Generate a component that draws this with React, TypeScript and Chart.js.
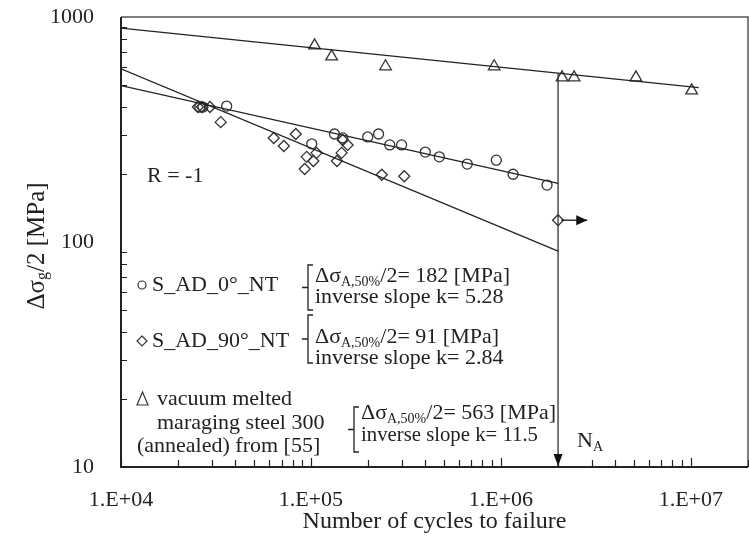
import React, { useEffect, useRef } from 'react';
import { Chart, registerables } from 'chart.js';

Chart.register(...registerables);

const FAMILY = '"Liberation Serif", "Times New Roman", serif';
const INK = '#222';

// Data
const circleN = [2.6e4, 2.7e4, 3.6e4, 1.01e5, 1.33e5, 1.47e5, 1.99e5, 2.27e5, 2.6e5, 3.0e5, 4.0e5, 4.74e5, 6.65e5, 9.46e5, 1.16e6, 1.75e6];
const circleS = [398, 398, 402, 273, 302, 290, 293, 302, 270, 270, 251, 239, 222, 231, 200, 179];

const diamondN = [2.54e4, 2.67e4, 2.94e4, 3.35e4, 6.37e4, 7.2e4, 8.32e4, 9.27e4, 9.5e4, 1.03e5, 1.07e5, 1.37e5, 1.45e5, 1.47e5, 1.56e5, 2.36e5, 3.1e5];
const diamondS = [398, 398, 398, 341, 290, 267, 302, 211, 239, 229, 249, 229, 249, 284, 270, 199, 196];

const runoutN = [2e6];
const runoutS = [125];

const triangleN = [1.045e5, 1.285e5, 2.47e5, 9.22e5, 2.1e6, 2.43e6, 5.14e6, 1.01e7];
const triangleS = [747, 667, 603, 603, 538, 538, 538, 471];

// Fitted curves (end points)
const fit0N = [1e4, 2e6];
const fit0S = [496, 182];
const fit90N = [1e4, 2e6];
const fit90S = [588, 91];
const fitRefN = [1e4, 1.1e7];
const fitRefS = [892, 485];

// N_A line and run-out arrow
const naN = [2e6, 2e6];
const naS = [563, 10];
const runArrowN = [2.08e6, 2.85e6];
const runArrowS = [125, 125];

// Axes
const xTickValues = [1e4, 1e5, 1e6, 1e7];
const xTickLabels = ['1.E+04', '1.E+05', '1.E+06', '1.E+07'];
const yTickValues = [10, 100, 1000];
const yTickLabels = ['10', '100', '1000'];
const xMin = 1e4;
const xMax = 2e7;
const yMin = 10;
const yMax = 1000;

const pts = (xs: number[], ys: number[]) => xs.map((x, i) => ({ x, y: ys[i] }));

function drawParts(ctx: CanvasRenderingContext2D, parts: [string, boolean][], x: number, y: number, measureOnly = false, big = 22, small = 14, drop = 6) {
  let cx = x;
  for (const [t, sub] of parts) {
    ctx.font = sub ? `${small}px ${FAMILY}` : `${big}px ${FAMILY}`;
    if (!measureOnly) ctx.fillText(t, cx, sub ? y + drop : y);
    cx += ctx.measureText(t).width;
  }
  return cx - x;
}

const annotationPlugin = {
  id: 'annotations',
  afterDraw(chart: any) {
    const ctx: CanvasRenderingContext2D = chart.ctx;
    const area = chart.chartArea;
    const xs = chart.scales.x;
    const ys = chart.scales.y;
    ctx.save();

    // frame
    ctx.strokeStyle = '#555';
    ctx.lineWidth = 1.5;
    ctx.beginPath();
    ctx.moveTo(area.left, area.top);
    ctx.lineTo(area.right, area.top);
    ctx.lineTo(area.right, area.bottom);
    ctx.stroke();
    ctx.strokeStyle = INK;
    ctx.lineWidth = 2;
    ctx.beginPath();
    ctx.moveTo(area.left, area.top);
    ctx.lineTo(area.left, area.bottom);
    ctx.lineTo(area.right, area.bottom);
    ctx.stroke();

    // inward minor ticks
    ctx.lineWidth = 1.2;
    ctx.strokeStyle = INK;
    ctx.beginPath();
    for (let d = 1e4; d <= 1e7; d *= 10) {
      for (let m = 1; m <= 9; m++) {
        const v = d * m;
        if (v > xMax) continue;
        const px = Math.round(xs.getPixelForValue(v)) + 0.5;
        const len = m === 1 ? 9 : 7;
        ctx.moveTo(px, area.bottom);
        ctx.lineTo(px, area.bottom - len);
      }
    }
    for (let d = 10; d < 1000; d *= 10) {
      for (let m = 2; m <= 9; m++) {
        const py = Math.round(ys.getPixelForValue(d * m)) + 0.5;
        ctx.moveTo(area.left, py);
        ctx.lineTo(area.left + 6, py);
      }
    }
    ctx.stroke();

    // arrowheads
    ctx.fillStyle = '#111';
    const ax = xs.getPixelForValue(2e6);
    ctx.beginPath();
    ctx.moveTo(ax, area.bottom - 1);
    ctx.lineTo(ax - 4.5, area.bottom - 13);
    ctx.lineTo(ax + 4.5, area.bottom - 13);
    ctx.closePath();
    ctx.fill();
    const rx = xs.getPixelForValue(runArrowN[1]);
    const ry = ys.getPixelForValue(runArrowS[1]);
    ctx.beginPath();
    ctx.moveTo(rx, ry);
    ctx.lineTo(rx - 11, ry - 5);
    ctx.lineTo(rx - 11, ry + 5);
    ctx.closePath();
    ctx.fill();

    // texts
    ctx.fillStyle = INK;
    ctx.textBaseline = 'middle';
    ctx.textAlign = 'left';
    ctx.font = `22px ${FAMILY}`;
    ctx.fillText('R = -1', 147, 176);

    // legend markers
    ctx.strokeStyle = '#333';
    ctx.lineWidth = 1.2;
    ctx.beginPath();
    ctx.arc(142, 285, 4, 0, Math.PI * 2);
    ctx.stroke();
    ctx.beginPath();
    ctx.moveTo(142, 336);
    ctx.lineTo(147, 341);
    ctx.lineTo(142, 346);
    ctx.lineTo(137, 341);
    ctx.closePath();
    ctx.stroke();
    ctx.beginPath();
    ctx.moveTo(142.5, 392);
    ctx.lineTo(148, 405);
    ctx.lineTo(137, 405);
    ctx.closePath();
    ctx.stroke();

    ctx.font = `22px ${FAMILY}`;
    ctx.fillText('S_AD_0°_NT', 152, 285);
    ctx.fillText('S_AD_90°_NT', 152, 341);
    ctx.fillText('vacuum melted', 157, 399);
    ctx.fillText('maraging steel 300', 157, 423);
    ctx.fillText('(annealed) from [55]', 137, 446);

    // brackets
    const bracket = (x: number, y0: number, y1: number) => {
      const ym = (y0 + y1) / 2;
      ctx.beginPath();
      ctx.moveTo(x + 5, y0);
      ctx.lineTo(x, y0);
      ctx.lineTo(x, y1);
      ctx.lineTo(x + 5, y1);
      ctx.moveTo(x, ym);
      ctx.lineTo(x - 6, ym);
      ctx.stroke();
    };
    ctx.strokeStyle = INK;
    ctx.lineWidth = 1.3;
    bracket(308, 265, 310);
    bracket(308, 315, 363);
    bracket(354, 407, 452);

    drawParts(ctx, [['Δσ', false], ['A,50%', true], ['/2= 182 [MPa]', false]], 315, 276);
    ctx.font = `22px ${FAMILY}`;
    ctx.fillText('inverse slope k= 5.28', 315, 297);
    drawParts(ctx, [['Δσ', false], ['A,50%', true], ['/2= 91 [MPa]', false]], 315, 337);
    ctx.font = `22px ${FAMILY}`;
    ctx.fillText('inverse slope k= 2.84', 315, 358);
    drawParts(ctx, [['Δσ', false], ['A,50%', true], ['/2= 563 [MPa]', false]], 361, 413);
    ctx.font = `22px ${FAMILY}`;
    ctx.fillText('inverse slope k= 11.5', 361, 435, 177);

    // N_A
    drawParts(ctx, [['N', false], ['A', true]], 577, 441);

    // y axis title
    ctx.save();
    ctx.translate(37, 246);
    ctx.rotate(-Math.PI / 2);
    const yParts: [string, boolean][] = [['Δσ', false], ['g', true], ['/2 [MPa]', false]];
    const w = drawParts(ctx, yParts, 0, 0, true, 25, 16, 6);
    drawParts(ctx, yParts, -w / 2, 0, false, 25, 16, 6);
    ctx.restore();

    ctx.restore();
  },
};

export default function App() {
  const ref = useRef<HTMLCanvasElement>(null);
  useEffect(() => {
    Chart.defaults.font.family = FAMILY;
    const markerStyle = {
      borderColor: '#333',
      backgroundColor: 'rgba(0,0,0,0)',
      borderWidth: 1.3,
      showLine: false,
    };
    const lineStyle = {
      borderColor: INK,
      borderWidth: 1.3,
      pointRadius: 0,
      showLine: true,
      fill: false,
    };
    const chart = new Chart(ref.current!, {
      type: 'scatter',
      data: {
        datasets: [
          { ...lineStyle, data: pts(fit0N, fit0S) },
          { ...lineStyle, data: pts(fit90N, fit90S) },
          { ...lineStyle, data: pts(fitRefN, fitRefS) },
          { ...lineStyle, borderColor: '#333', data: pts(naN, naS) },
          { ...lineStyle, borderColor: '#111', data: pts(runArrowN, runArrowS) },
          { ...markerStyle, pointStyle: 'circle', pointRadius: 5, data: pts(circleN, circleS) },
          { ...markerStyle, pointStyle: 'rectRot', pointRadius: 5.5, data: pts(diamondN, diamondS) },
          { ...markerStyle, pointStyle: 'rectRot', pointRadius: 5.5, data: pts(runoutN, runoutS) },
          { ...markerStyle, pointStyle: 'triangle', pointRadius: 6.7, data: pts(triangleN, triangleS) },
        ],
      },
      options: {
        responsive: false,
        maintainAspectRatio: false,
        devicePixelRatio: 1,
        animation: false,
        layout: { autoPadding: false, padding: { top: 17, right: 1, left: 0, bottom: 0 } },
        plugins: { legend: { display: false }, tooltip: { enabled: false } },
        scales: {
          x: {
            type: 'logarithmic',
            min: xMin,
            max: xMax,
            grid: { display: false },
            border: { display: false },
            afterBuildTicks: (s: any) => {
              s.ticks = xTickValues.map((v) => ({ value: v }));
            },
            afterFit: (s: any) => {
              s.height = 69;
              s.paddingLeft = 0;
              s.paddingRight = 0;
            },
            ticks: {
              autoSkip: false,
              maxRotation: 0,
              padding: 12,
              color: INK,
              font: { size: 22, family: FAMILY },
              callback: (_v: any, i: number) => xTickLabels[i],
            },
            title: {
              display: true,
              text: 'Number of cycles to failure',
              color: INK,
              font: { size: 24, family: FAMILY },
              padding: { top: 0, bottom: 0 },
            },
          },
          y: {
            type: 'logarithmic',
            min: yMin,
            max: yMax,
            grid: { display: false },
            border: { display: false },
            afterBuildTicks: (s: any) => {
              s.ticks = yTickValues.map((v) => ({ value: v }));
            },
            afterFit: (s: any) => {
              s.width = 121;
              s.paddingTop = 0;
              s.paddingBottom = 0;
            },
            ticks: {
              autoSkip: false,
              padding: 19,
              color: INK,
              font: { size: 22, family: FAMILY },
              callback: (_v: any, i: number) => yTickLabels[i],
            },
          },
        },
      },
      plugins: [annotationPlugin],
    } as any);
    return () => chart.destroy();
  }, []);
  return (
    <div style={{ position: 'fixed', left: 0, top: 0, width: 749, height: 536, background: '#fff' }}>
      <canvas ref={ref} width={749} height={536} style={{ display: 'block', width: 749, height: 536 }} />
    </div>
  );
}
